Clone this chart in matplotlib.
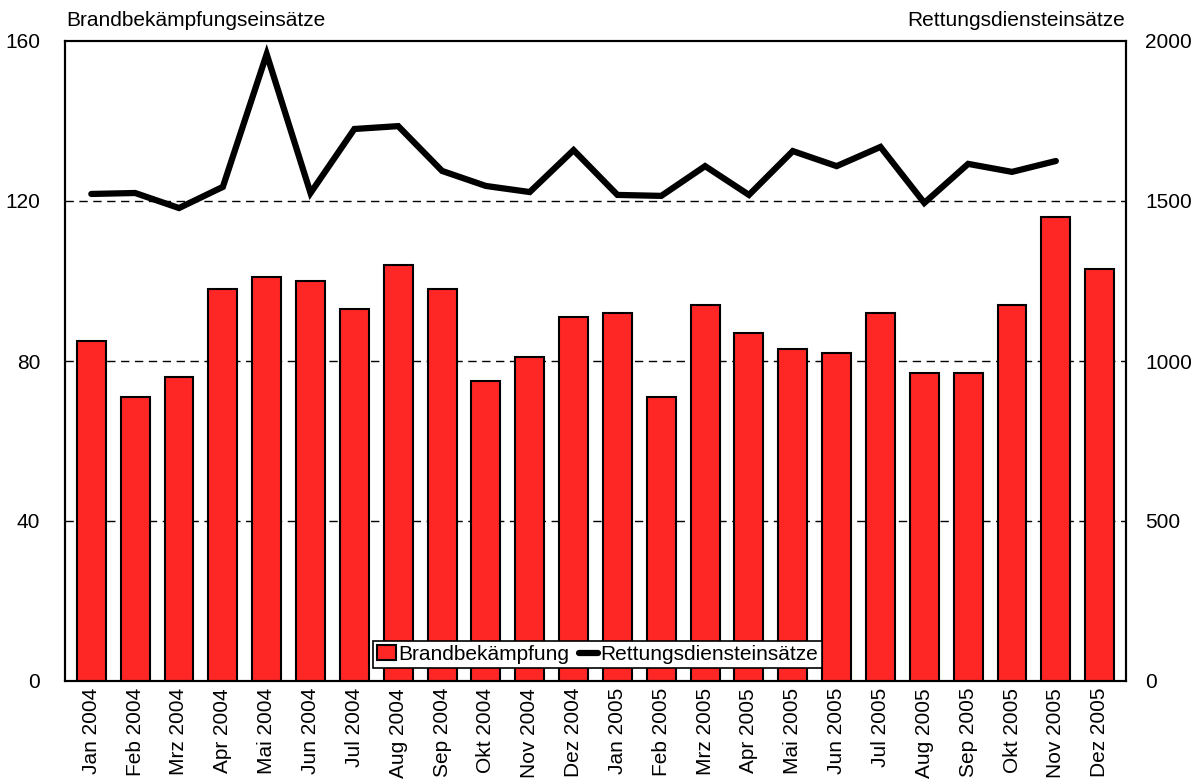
import matplotlib
matplotlib.use("Agg")
import matplotlib.pyplot as plt
import numpy as np

plt.rcParams['font.family'] = ['Liberation Sans', 'DejaVu Sans']

months = ["Jan 2004", "Feb 2004", "Mrz 2004", "Apr 2004", "Mai 2004", "Jun 2004",
          "Jul 2004", "Aug 2004", "Sep 2004", "Okt 2004", "Nov 2004", "Dez 2004",
          "Jan 2005", "Feb 2005", "Mrz 2005", "Apr 2005", "Mai 2005", "Jun 2005",
          "Jul 2005", "Aug 2005", "Sep 2005", "Okt 2005", "Nov 2005", "Dez 2005"]
brand = [85, 71, 76, 98, 101, 100, 93, 104, 98, 75, 81, 91,
         92, 71, 94, 87, 83, 82, 92, 77, 77, 94, 116, 103]
rettung = [1522, 1525, 1478, 1544, 1959, 1525, 1725, 1734, 1594, 1547, 1528, 1659,
           1519, 1516, 1609, 1519, 1656, 1609, 1669, 1494, 1616, 1591, 1625, np.nan]

FS = 15
fig = plt.figure(figsize=(12, 7.82), dpi=100)
ax = fig.add_axes([65/1200, 1-681/782, (1126-65)/1200, (681-41)/782])
ax2 = ax.twinx()

x = np.arange(len(months))
bars = ax.bar(x, brand, width=0.66, color='#FF2626', edgecolor='black', linewidth=1.5,
              zorder=3, label='Brandbekämpfung')
ax.set_ylim(0, 160)
ax.set_xlim(-0.6, len(months) - 0.4)
ax.set_yticks([0, 40, 80, 120, 160])
for yv in [40, 80, 120]:
    ax.axhline(yv, color='black', linestyle=(0, (6, 4)), linewidth=1, zorder=1)
ax.set_xticks(x)
ax.set_xticklabels(months, rotation=90, fontsize=FS)
ax.tick_params(axis='both', length=0, labelsize=FS)
ax.tick_params(axis='y', pad=18)
ax.tick_params(axis='x', pad=5)

line, = ax2.plot(x, rettung, color='black', linewidth=4.5, solid_joinstyle='miter',
                 label='Rettungsdiensteinsätze', solid_capstyle='round')
ax2.set_ylim(0, 2000)
ax2.set_yticks([0, 500, 1000, 1500, 2000])
ax2.tick_params(axis='y', length=0, labelsize=FS, pad=14)

for a in (ax, ax2):
    for s in a.spines.values():
        s.set_linewidth(1.5)
        s.set_color('black')

leg = ax2.legend(handles=[bars, line], loc='lower center', bbox_to_anchor=(0.502, 0.02),
                 ncol=2, frameon=True, fancybox=False, edgecolor='black', fontsize=FS,
                 handlelength=0.9, handletextpad=0.12, columnspacing=0.45,
                 borderpad=0.2, borderaxespad=0, framealpha=1)
leg.get_frame().set_linewidth(1.2)

fig.text(66/1200, 1-26/782, 'Brandbekämpfungseinsätze', fontsize=FS, ha='left', va='baseline')
fig.text(1125/1200, 1-26/782, 'Rettungsdiensteinsätze', fontsize=FS, ha='right', va='baseline')

fig.savefig('out.png', dpi=100)
